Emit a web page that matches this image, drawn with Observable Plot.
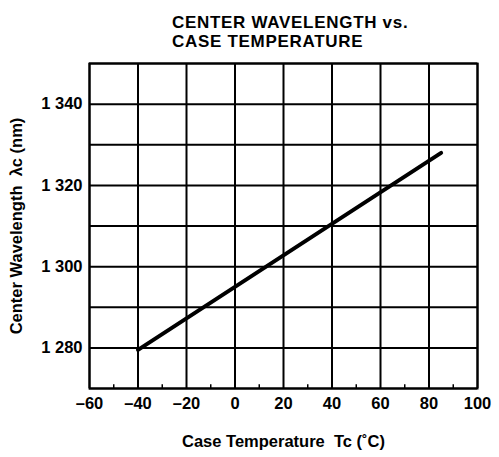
<!DOCTYPE html>
<html>
<head>
<meta charset="utf-8">
<script src="https://cdn.jsdelivr.net/npm/d3@7"></script>
<script src="https://cdn.jsdelivr.net/npm/@observablehq/plot@0.6"></script>
<style>
  html, body { margin: 0; padding: 0; background: #fff; }
  #wrap { position: relative; width: 499px; height: 457px; }
  #title { position: absolute; left: 172px; top: 13px; font-family: "Liberation Sans", Arial, sans-serif;
           font-weight: bold; font-size: 17px; line-height: 19px; color: #000; letter-spacing: 0.7px; }
</style>
</head>
<body>
<div id="wrap">
  <div id="title">CENTER WAVELENGTH vs.<br>CASE TEMPERATURE</div>
</div>
<script>
const temperatures = [-40, 85];
const wavelengths = [1279.5, 1328];
const xTicks = [-60, -40, -20, 0, 20, 40, 60, 80, 100];
const xMinorTicks = [-50, -30, -10, 10, 30, 50, 70, 90];
const yTicks = [1280, 1300, 1320, 1340];
const yGrid = [1270, 1280, 1290, 1300, 1310, 1320, 1330, 1340, 1350];

const data = temperatures.map((t, i) => ({t, w: wavelengths[i]}));
const yFmt = d => { const s = String(d); return s.slice(0, 1) + " " + s.slice(1); };
const xFmt = d => d < 0 ? "\u2013" + Math.abs(d) : String(d);

const chart = Plot.plot({
  width: 499,
  height: 457,
  marginLeft: 89,
  marginRight: 22,
  marginTop: 63,
  marginBottom: 69,
  style: {fontFamily: "Liberation Sans, Arial, sans-serif", fontSize: "17px", fontWeight: "bold", color: "#000", background: "#fff"},
  x: {domain: [-60, 100]},
  y: {domain: [1270, 1350]},
  marks: [
    Plot.gridX(xTicks, {stroke: "#000", strokeOpacity: 1, strokeWidth: 2}),
    Plot.gridY(yGrid, {stroke: "#000", strokeOpacity: 1, strokeWidth: 2}),
    Plot.ruleX(xMinorTicks, {x: d => d, y1: 1270, y2: 1270.9, stroke: "#000", strokeWidth: 1.5}),
    Plot.frame({stroke: "#000", strokeWidth: 2}),
    Plot.axisX({ticks: xTicks, tickSize: 0, tickPadding: 9, tickFormat: xFmt, fontSize: 16.5,
                label: "Case Temperature  Tc (\u02daC)", labelAnchor: "center", labelArrow: "none", labelOffset: 58}),
    Plot.axisY({ticks: yTicks, tickSize: 0, tickPadding: 7, tickFormat: yFmt, fontSize: 16.5,
                label: "Center Wavelength  \u03bbc (nm)", labelAnchor: "center", labelArrow: "none", labelOffset: 79}),
    Plot.line(data, {x: "t", y: "w", stroke: "#000", strokeWidth: 4})
  ]
});
document.getElementById("wrap").prepend(chart);
</script>
</body>
</html>
